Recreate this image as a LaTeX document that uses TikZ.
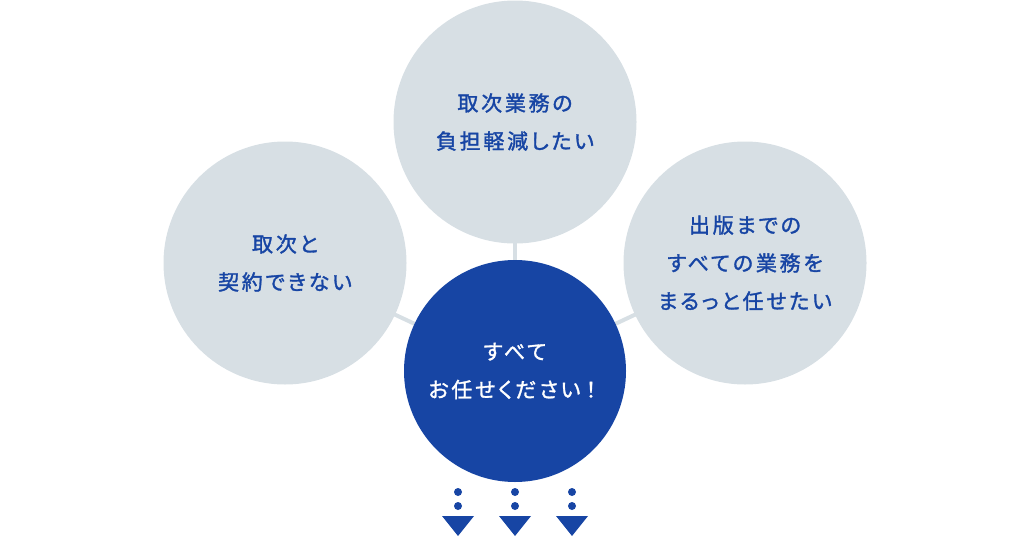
\documentclass[tikz,border=0pt]{standalone}
\usepackage{fontspec}
\setmainfont[LetterSpace=13,RawFeature=+palt,FakeBold=1.5]{Noto Sans CJK JP}
\usetikzlibrary{calc}
\definecolor{grayc}{HTML}{D7DFE4}
\definecolor{bluec}{HTML}{1745A4}
\newcommand{\fullbang}{{\addfontfeature{RawFeature=-palt}！}}
\tikzset{%
    wish/.style={circle, fill=grayc, minimum size=243pt, inner sep=0pt, text=bluec, align=center, font=\fontsize{21pt}{38pt}\selectfont},
    goal/.style={circle, fill=bluec, minimum size=222pt, inner sep=0pt, text=white, align=center, font=\fontsize{21pt}{38pt}\selectfont},
    link/.style={line width = 4pt, grayc},
    dot/.style={fill=bluec},
}
\begin{document}
\begin{tikzpicture}[x=1pt,y=-1pt]
    \useasboundingbox (0,0) rectangle (1030,538);
    \coordinate (T) at (515,122);
    \coordinate (L) at (285,263);
    \coordinate (R) at (745,263);
    \coordinate (C) at (515,371);
    \draw [link] (T) -- (C);
    \draw [link] (L) -- (C);
    \draw [link] (R) -- (C);
    \node [wish] (top) at (T) {取次業務の\\負担軽減したい};
    \node [wish] (left) at (L) {取次と\\契約できない};
    \node [wish] (right) at (R) {出版までの\\すべての業務を\\まるっと任せたい};
    \node [goal] (all) at (C) {すべて\\お任せください\fullbang};
    \foreach \x in {458,515,572}{
        \fill [dot] (\x,492) circle (4);
        \fill [dot] (\x,506) circle (4);
        \fill [dot] (\x-16,516) -- (\x+16,516) -- (\x,536) -- cycle;
    }
\end{tikzpicture}
\end{document}
